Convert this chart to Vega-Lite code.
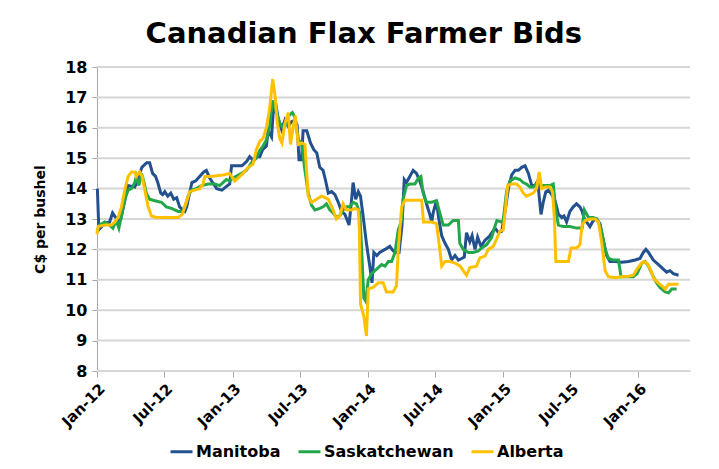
{
  "$schema": "https://vega.github.io/schema/vega-lite/v6.json",
  "width": 593,
  "height": 304,
  "autosize": {"type": "none"},
  "padding": {"left": 97, "top": 67, "right": 29, "bottom": 98},
  "background": "white",
  "config": {"view": {"stroke": null}},
  "title": {
    "text": "Canadian Flax Farmer Bids",
    "font": "DejaVu Sans",
    "fontSize": 29,
    "fontWeight": "bold",
    "color": "black",
    "anchor": "middle",
    "frame": "bounds",
    "offset": 10
  },
  "datasets": {
    "grid": [
      {"level": 8, "date": "2012-01-01"}, {"level": 8, "date": "2016-05-19"},
      {"level": 9, "date": "2012-01-01"}, {"level": 9, "date": "2016-05-19"},
      {"level": 10, "date": "2012-01-01"}, {"level": 10, "date": "2016-05-19"},
      {"level": 11, "date": "2012-01-01"}, {"level": 11, "date": "2016-05-19"},
      {"level": 12, "date": "2012-01-01"}, {"level": 12, "date": "2016-05-19"},
      {"level": 13, "date": "2012-01-01"}, {"level": 13, "date": "2016-05-19"},
      {"level": 14, "date": "2012-01-01"}, {"level": 14, "date": "2016-05-19"},
      {"level": 15, "date": "2012-01-01"}, {"level": 15, "date": "2016-05-19"},
      {"level": 16, "date": "2012-01-01"}, {"level": 16, "date": "2016-05-19"},
      {"level": 17, "date": "2012-01-01"}, {"level": 17, "date": "2016-05-19"},
      {"level": 18, "date": "2012-01-01"}, {"level": 18, "date": "2016-05-19"}
    ],
    "bids": [
      {"province": "Manitoba", "date": "2012-01-02", "bid": 14.0}, {"province": "Manitoba", "date": "2012-01-06", "bid": 12.65}, {"province": "Manitoba", "date": "2012-01-22", "bid": 12.85},
      {"province": "Manitoba", "date": "2012-02-04", "bid": 12.9}, {"province": "Manitoba", "date": "2012-02-12", "bid": 13.2}, {"province": "Manitoba", "date": "2012-02-26", "bid": 12.95},
      {"province": "Manitoba", "date": "2012-03-05", "bid": 13.0}, {"province": "Manitoba", "date": "2012-03-16", "bid": 13.6}, {"province": "Manitoba", "date": "2012-03-24", "bid": 14.1},
      {"province": "Manitoba", "date": "2012-04-12", "bid": 14.05}, {"province": "Manitoba", "date": "2012-04-20", "bid": 14.3}, {"province": "Manitoba", "date": "2012-05-01", "bid": 14.7},
      {"province": "Manitoba", "date": "2012-05-14", "bid": 14.85}, {"province": "Manitoba", "date": "2012-05-22", "bid": 14.85}, {"province": "Manitoba", "date": "2012-05-30", "bid": 14.5},
      {"province": "Manitoba", "date": "2012-06-07", "bid": 14.4}, {"province": "Manitoba", "date": "2012-06-13", "bid": 14.2}, {"province": "Manitoba", "date": "2012-06-21", "bid": 13.85},
      {"province": "Manitoba", "date": "2012-06-26", "bid": 13.8}, {"province": "Manitoba", "date": "2012-07-02", "bid": 13.9}, {"province": "Manitoba", "date": "2012-07-10", "bid": 13.75},
      {"province": "Manitoba", "date": "2012-07-18", "bid": 13.85}, {"province": "Manitoba", "date": "2012-07-26", "bid": 13.65}, {"province": "Manitoba", "date": "2012-08-03", "bid": 13.7},
      {"province": "Manitoba", "date": "2012-08-11", "bid": 13.4}, {"province": "Manitoba", "date": "2012-08-19", "bid": 13.3}, {"province": "Manitoba", "date": "2012-08-25", "bid": 13.25},
      {"province": "Manitoba", "date": "2012-08-30", "bid": 13.4}, {"province": "Manitoba", "date": "2012-09-05", "bid": 13.75}, {"province": "Manitoba", "date": "2012-09-13", "bid": 14.2},
      {"province": "Manitoba", "date": "2012-09-23", "bid": 14.25}, {"province": "Manitoba", "date": "2012-10-04", "bid": 14.4}, {"province": "Manitoba", "date": "2012-10-15", "bid": 14.55},
      {"province": "Manitoba", "date": "2012-10-22", "bid": 14.6}, {"province": "Manitoba", "date": "2012-10-31", "bid": 14.35}, {"province": "Manitoba", "date": "2012-11-08", "bid": 14.2},
      {"province": "Manitoba", "date": "2012-11-19", "bid": 14.0}, {"province": "Manitoba", "date": "2012-12-03", "bid": 13.95}, {"province": "Manitoba", "date": "2012-12-13", "bid": 14.05},
      {"province": "Manitoba", "date": "2012-12-24", "bid": 14.15}, {"province": "Manitoba", "date": "2012-12-29", "bid": 14.75}, {"province": "Manitoba", "date": "2013-01-12", "bid": 14.75},
      {"province": "Manitoba", "date": "2013-01-26", "bid": 14.75}, {"province": "Manitoba", "date": "2013-02-08", "bid": 14.9}, {"province": "Manitoba", "date": "2013-02-16", "bid": 15.05},
      {"province": "Manitoba", "date": "2013-02-24", "bid": 14.95}, {"province": "Manitoba", "date": "2013-03-07", "bid": 15.05}, {"province": "Manitoba", "date": "2013-03-15", "bid": 15.05},
      {"province": "Manitoba", "date": "2013-03-23", "bid": 15.28}, {"province": "Manitoba", "date": "2013-04-02", "bid": 15.4}, {"province": "Manitoba", "date": "2013-04-07", "bid": 15.9},
      {"province": "Manitoba", "date": "2013-04-16", "bid": 15.7}, {"province": "Manitoba", "date": "2013-04-20", "bid": 16.45}, {"province": "Manitoba", "date": "2013-04-27", "bid": 16.8},
      {"province": "Manitoba", "date": "2013-05-04", "bid": 16.3}, {"province": "Manitoba", "date": "2013-05-13", "bid": 15.95}, {"province": "Manitoba", "date": "2013-05-22", "bid": 16.25},
      {"province": "Manitoba", "date": "2013-05-31", "bid": 16.05}, {"province": "Manitoba", "date": "2013-06-09", "bid": 16.2}, {"province": "Manitoba", "date": "2013-06-18", "bid": 16.25},
      {"province": "Manitoba", "date": "2013-06-24", "bid": 16.1}, {"province": "Manitoba", "date": "2013-06-29", "bid": 14.95}, {"province": "Manitoba", "date": "2013-07-06", "bid": 14.95},
      {"province": "Manitoba", "date": "2013-07-10", "bid": 15.9}, {"province": "Manitoba", "date": "2013-07-20", "bid": 15.9}, {"province": "Manitoba", "date": "2013-07-30", "bid": 15.5},
      {"province": "Manitoba", "date": "2013-08-08", "bid": 15.28}, {"province": "Manitoba", "date": "2013-08-16", "bid": 15.17}, {"province": "Manitoba", "date": "2013-08-24", "bid": 14.7},
      {"province": "Manitoba", "date": "2013-09-02", "bid": 14.6}, {"province": "Manitoba", "date": "2013-09-09", "bid": 14.25}, {"province": "Manitoba", "date": "2013-09-16", "bid": 13.85},
      {"province": "Manitoba", "date": "2013-09-25", "bid": 13.9}, {"province": "Manitoba", "date": "2013-10-04", "bid": 13.8}, {"province": "Manitoba", "date": "2013-10-13", "bid": 13.55},
      {"province": "Manitoba", "date": "2013-10-22", "bid": 13.25}, {"province": "Manitoba", "date": "2013-10-31", "bid": 13.15}, {"province": "Manitoba", "date": "2013-11-08", "bid": 12.9},
      {"province": "Manitoba", "date": "2013-11-11", "bid": 12.8}, {"province": "Manitoba", "date": "2013-11-18", "bid": 13.65}, {"province": "Manitoba", "date": "2013-11-22", "bid": 14.2},
      {"province": "Manitoba", "date": "2013-11-29", "bid": 13.65}, {"province": "Manitoba", "date": "2013-12-06", "bid": 13.9}, {"province": "Manitoba", "date": "2013-12-12", "bid": 13.75},
      {"province": "Manitoba", "date": "2013-12-19", "bid": 13.1}, {"province": "Manitoba", "date": "2013-12-28", "bid": 12.2}, {"province": "Manitoba", "date": "2014-01-06", "bid": 11.45},
      {"province": "Manitoba", "date": "2014-01-12", "bid": 10.9}, {"province": "Manitoba", "date": "2014-01-17", "bid": 11.9}, {"province": "Manitoba", "date": "2014-01-25", "bid": 11.8},
      {"province": "Manitoba", "date": "2014-02-02", "bid": 11.9}, {"province": "Manitoba", "date": "2014-02-16", "bid": 12.0}, {"province": "Manitoba", "date": "2014-03-01", "bid": 12.1},
      {"province": "Manitoba", "date": "2014-03-10", "bid": 11.95}, {"province": "Manitoba", "date": "2014-03-19", "bid": 11.9}, {"province": "Manitoba", "date": "2014-03-26", "bid": 11.9},
      {"province": "Manitoba", "date": "2014-04-03", "bid": 12.8}, {"province": "Manitoba", "date": "2014-04-09", "bid": 14.3}, {"province": "Manitoba", "date": "2014-04-15", "bid": 14.2},
      {"province": "Manitoba", "date": "2014-04-24", "bid": 14.4}, {"province": "Manitoba", "date": "2014-05-03", "bid": 14.6}, {"province": "Manitoba", "date": "2014-05-12", "bid": 14.5},
      {"province": "Manitoba", "date": "2014-05-21", "bid": 14.25}, {"province": "Manitoba", "date": "2014-05-30", "bid": 13.9}, {"province": "Manitoba", "date": "2014-06-08", "bid": 13.5},
      {"province": "Manitoba", "date": "2014-06-17", "bid": 13.15}, {"province": "Manitoba", "date": "2014-06-22", "bid": 12.9}, {"province": "Manitoba", "date": "2014-06-26", "bid": 13.2},
      {"province": "Manitoba", "date": "2014-07-05", "bid": 13.6}, {"province": "Manitoba", "date": "2014-07-10", "bid": 13.1}, {"province": "Manitoba", "date": "2014-07-19", "bid": 12.45},
      {"province": "Manitoba", "date": "2014-07-28", "bid": 12.2}, {"province": "Manitoba", "date": "2014-08-06", "bid": 12.0}, {"province": "Manitoba", "date": "2014-08-15", "bid": 11.65},
      {"province": "Manitoba", "date": "2014-08-24", "bid": 11.8}, {"province": "Manitoba", "date": "2014-09-02", "bid": 11.65}, {"province": "Manitoba", "date": "2014-09-11", "bid": 11.7},
      {"province": "Manitoba", "date": "2014-09-18", "bid": 11.75}, {"province": "Manitoba", "date": "2014-09-24", "bid": 12.55}, {"province": "Manitoba", "date": "2014-10-03", "bid": 12.25},
      {"province": "Manitoba", "date": "2014-10-09", "bid": 12.45}, {"province": "Manitoba", "date": "2014-10-17", "bid": 12.0}, {"province": "Manitoba", "date": "2014-10-24", "bid": 12.4},
      {"province": "Manitoba", "date": "2014-11-02", "bid": 12.1}, {"province": "Manitoba", "date": "2014-11-13", "bid": 12.3}, {"province": "Manitoba", "date": "2014-11-26", "bid": 12.45},
      {"province": "Manitoba", "date": "2014-12-10", "bid": 12.7}, {"province": "Manitoba", "date": "2014-12-19", "bid": 12.55}, {"province": "Manitoba", "date": "2014-12-28", "bid": 12.6},
      {"province": "Manitoba", "date": "2015-01-06", "bid": 13.25}, {"province": "Manitoba", "date": "2015-01-15", "bid": 14.0}, {"province": "Manitoba", "date": "2015-01-24", "bid": 14.45},
      {"province": "Manitoba", "date": "2015-02-02", "bid": 14.6}, {"province": "Manitoba", "date": "2015-02-11", "bid": 14.6}, {"province": "Manitoba", "date": "2015-02-20", "bid": 14.7},
      {"province": "Manitoba", "date": "2015-03-01", "bid": 14.75}, {"province": "Manitoba", "date": "2015-03-10", "bid": 14.5}, {"province": "Manitoba", "date": "2015-03-19", "bid": 14.1},
      {"province": "Manitoba", "date": "2015-03-28", "bid": 14.1}, {"province": "Manitoba", "date": "2015-04-04", "bid": 14.25}, {"province": "Manitoba", "date": "2015-04-13", "bid": 13.15},
      {"province": "Manitoba", "date": "2015-04-19", "bid": 13.55}, {"province": "Manitoba", "date": "2015-04-26", "bid": 13.9}, {"province": "Manitoba", "date": "2015-05-03", "bid": 13.95},
      {"province": "Manitoba", "date": "2015-05-12", "bid": 13.8}, {"province": "Manitoba", "date": "2015-05-21", "bid": 13.6}, {"province": "Manitoba", "date": "2015-05-30", "bid": 13.15},
      {"province": "Manitoba", "date": "2015-06-08", "bid": 13.05}, {"province": "Manitoba", "date": "2015-06-14", "bid": 13.1}, {"province": "Manitoba", "date": "2015-06-21", "bid": 12.9},
      {"province": "Manitoba", "date": "2015-06-30", "bid": 13.25}, {"province": "Manitoba", "date": "2015-07-09", "bid": 13.4}, {"province": "Manitoba", "date": "2015-07-18", "bid": 13.5},
      {"province": "Manitoba", "date": "2015-07-27", "bid": 13.4}, {"province": "Manitoba", "date": "2015-08-02", "bid": 13.25}, {"province": "Manitoba", "date": "2015-08-08", "bid": 13.0},
      {"province": "Manitoba", "date": "2015-08-14", "bid": 12.9}, {"province": "Manitoba", "date": "2015-08-23", "bid": 12.75}, {"province": "Manitoba", "date": "2015-09-01", "bid": 12.95},
      {"province": "Manitoba", "date": "2015-09-10", "bid": 13.0}, {"province": "Manitoba", "date": "2015-09-19", "bid": 12.85}, {"province": "Manitoba", "date": "2015-09-28", "bid": 12.3},
      {"province": "Manitoba", "date": "2015-10-07", "bid": 11.8}, {"province": "Manitoba", "date": "2015-10-16", "bid": 11.6}, {"province": "Manitoba", "date": "2015-10-30", "bid": 11.6},
      {"province": "Manitoba", "date": "2015-11-17", "bid": 11.58}, {"province": "Manitoba", "date": "2015-12-05", "bid": 11.6}, {"province": "Manitoba", "date": "2015-12-23", "bid": 11.65},
      {"province": "Manitoba", "date": "2016-01-05", "bid": 11.7}, {"province": "Manitoba", "date": "2016-01-14", "bid": 11.9}, {"province": "Manitoba", "date": "2016-01-21", "bid": 12.0},
      {"province": "Manitoba", "date": "2016-01-28", "bid": 11.9}, {"province": "Manitoba", "date": "2016-02-10", "bid": 11.65}, {"province": "Manitoba", "date": "2016-02-24", "bid": 11.5},
      {"province": "Manitoba", "date": "2016-03-08", "bid": 11.35}, {"province": "Manitoba", "date": "2016-03-17", "bid": 11.25}, {"province": "Manitoba", "date": "2016-03-26", "bid": 11.3},
      {"province": "Manitoba", "date": "2016-04-04", "bid": 11.2}, {"province": "Manitoba", "date": "2016-04-18", "bid": 11.15},
      {"province": "Saskatchewan", "date": "2012-01-01", "bid": 12.6}, {"province": "Saskatchewan", "date": "2012-01-08", "bid": 12.8}, {"province": "Saskatchewan", "date": "2012-01-22", "bid": 12.9},
      {"province": "Saskatchewan", "date": "2012-02-04", "bid": 12.8}, {"province": "Saskatchewan", "date": "2012-02-13", "bid": 12.7}, {"province": "Saskatchewan", "date": "2012-02-22", "bid": 12.95},
      {"province": "Saskatchewan", "date": "2012-02-29", "bid": 12.7}, {"province": "Saskatchewan", "date": "2012-03-07", "bid": 13.1}, {"province": "Saskatchewan", "date": "2012-03-16", "bid": 13.65},
      {"province": "Saskatchewan", "date": "2012-03-25", "bid": 13.95}, {"province": "Saskatchewan", "date": "2012-04-03", "bid": 14.0}, {"province": "Saskatchewan", "date": "2012-04-12", "bid": 14.2},
      {"province": "Saskatchewan", "date": "2012-04-16", "bid": 14.4}, {"province": "Saskatchewan", "date": "2012-04-23", "bid": 14.1}, {"province": "Saskatchewan", "date": "2012-04-30", "bid": 14.5},
      {"province": "Saskatchewan", "date": "2012-05-07", "bid": 14.2}, {"province": "Saskatchewan", "date": "2012-05-13", "bid": 13.85}, {"province": "Saskatchewan", "date": "2012-05-22", "bid": 13.65},
      {"province": "Saskatchewan", "date": "2012-06-05", "bid": 13.6}, {"province": "Saskatchewan", "date": "2012-06-23", "bid": 13.55}, {"province": "Saskatchewan", "date": "2012-07-06", "bid": 13.4},
      {"province": "Saskatchewan", "date": "2012-07-20", "bid": 13.35}, {"province": "Saskatchewan", "date": "2012-08-07", "bid": 13.25}, {"province": "Saskatchewan", "date": "2012-08-19", "bid": 13.25},
      {"province": "Saskatchewan", "date": "2012-08-25", "bid": 13.4}, {"province": "Saskatchewan", "date": "2012-09-03", "bid": 13.75}, {"province": "Saskatchewan", "date": "2012-09-12", "bid": 13.95},
      {"province": "Saskatchewan", "date": "2012-09-25", "bid": 14.0}, {"province": "Saskatchewan", "date": "2012-10-09", "bid": 14.1}, {"province": "Saskatchewan", "date": "2012-10-27", "bid": 14.15},
      {"province": "Saskatchewan", "date": "2012-11-14", "bid": 14.15}, {"province": "Saskatchewan", "date": "2012-11-27", "bid": 14.1}, {"province": "Saskatchewan", "date": "2012-12-06", "bid": 14.2},
      {"province": "Saskatchewan", "date": "2012-12-15", "bid": 14.3}, {"province": "Saskatchewan", "date": "2012-12-24", "bid": 14.25}, {"province": "Saskatchewan", "date": "2013-01-02", "bid": 14.35},
      {"province": "Saskatchewan", "date": "2013-01-25", "bid": 14.5}, {"province": "Saskatchewan", "date": "2013-02-07", "bid": 14.6}, {"province": "Saskatchewan", "date": "2013-02-21", "bid": 14.85},
      {"province": "Saskatchewan", "date": "2013-03-06", "bid": 15.0}, {"province": "Saskatchewan", "date": "2013-03-15", "bid": 15.25}, {"province": "Saskatchewan", "date": "2013-03-24", "bid": 15.4},
      {"province": "Saskatchewan", "date": "2013-04-02", "bid": 15.6}, {"province": "Saskatchewan", "date": "2013-04-11", "bid": 16.05}, {"province": "Saskatchewan", "date": "2013-04-18", "bid": 16.9},
      {"province": "Saskatchewan", "date": "2013-04-25", "bid": 16.65}, {"province": "Saskatchewan", "date": "2013-05-02", "bid": 16.4}, {"province": "Saskatchewan", "date": "2013-05-08", "bid": 16.15},
      {"province": "Saskatchewan", "date": "2013-05-17", "bid": 16.0}, {"province": "Saskatchewan", "date": "2013-05-25", "bid": 16.1}, {"province": "Saskatchewan", "date": "2013-06-02", "bid": 16.4},
      {"province": "Saskatchewan", "date": "2013-06-11", "bid": 16.5}, {"province": "Saskatchewan", "date": "2013-06-18", "bid": 16.35}, {"province": "Saskatchewan", "date": "2013-06-27", "bid": 15.6},
      {"province": "Saskatchewan", "date": "2013-07-06", "bid": 15.5}, {"province": "Saskatchewan", "date": "2013-07-15", "bid": 14.6}, {"province": "Saskatchewan", "date": "2013-07-24", "bid": 13.85},
      {"province": "Saskatchewan", "date": "2013-08-02", "bid": 13.45}, {"province": "Saskatchewan", "date": "2013-08-11", "bid": 13.3}, {"province": "Saskatchewan", "date": "2013-08-24", "bid": 13.35},
      {"province": "Saskatchewan", "date": "2013-09-02", "bid": 13.4}, {"province": "Saskatchewan", "date": "2013-09-11", "bid": 13.5}, {"province": "Saskatchewan", "date": "2013-09-20", "bid": 13.3},
      {"province": "Saskatchewan", "date": "2013-09-29", "bid": 13.2}, {"province": "Saskatchewan", "date": "2013-10-08", "bid": 13.05}, {"province": "Saskatchewan", "date": "2013-10-17", "bid": 13.1},
      {"province": "Saskatchewan", "date": "2013-10-26", "bid": 13.3}, {"province": "Saskatchewan", "date": "2013-11-04", "bid": 13.4}, {"province": "Saskatchewan", "date": "2013-11-13", "bid": 13.4},
      {"province": "Saskatchewan", "date": "2013-11-22", "bid": 13.55}, {"province": "Saskatchewan", "date": "2013-12-01", "bid": 13.5}, {"province": "Saskatchewan", "date": "2013-12-10", "bid": 13.2},
      {"province": "Saskatchewan", "date": "2013-12-15", "bid": 12.0}, {"province": "Saskatchewan", "date": "2013-12-21", "bid": 10.4}, {"province": "Saskatchewan", "date": "2013-12-26", "bid": 10.3},
      {"province": "Saskatchewan", "date": "2014-01-02", "bid": 11.0}, {"province": "Saskatchewan", "date": "2014-01-11", "bid": 11.2}, {"province": "Saskatchewan", "date": "2014-01-20", "bid": 11.3},
      {"province": "Saskatchewan", "date": "2014-01-29", "bid": 11.4}, {"province": "Saskatchewan", "date": "2014-02-07", "bid": 11.5}, {"province": "Saskatchewan", "date": "2014-02-16", "bid": 11.45},
      {"province": "Saskatchewan", "date": "2014-02-25", "bid": 11.6}, {"province": "Saskatchewan", "date": "2014-03-06", "bid": 11.6}, {"province": "Saskatchewan", "date": "2014-03-15", "bid": 11.9},
      {"province": "Saskatchewan", "date": "2014-03-24", "bid": 12.65}, {"province": "Saskatchewan", "date": "2014-04-02", "bid": 12.95}, {"province": "Saskatchewan", "date": "2014-04-06", "bid": 13.65},
      {"province": "Saskatchewan", "date": "2014-04-15", "bid": 14.1}, {"province": "Saskatchewan", "date": "2014-04-24", "bid": 14.15}, {"province": "Saskatchewan", "date": "2014-05-08", "bid": 14.15},
      {"province": "Saskatchewan", "date": "2014-05-17", "bid": 14.35}, {"province": "Saskatchewan", "date": "2014-05-24", "bid": 14.4}, {"province": "Saskatchewan", "date": "2014-05-30", "bid": 13.85},
      {"province": "Saskatchewan", "date": "2014-06-08", "bid": 13.55}, {"province": "Saskatchewan", "date": "2014-06-22", "bid": 13.55}, {"province": "Saskatchewan", "date": "2014-07-05", "bid": 13.6},
      {"province": "Saskatchewan", "date": "2014-07-14", "bid": 13.2}, {"province": "Saskatchewan", "date": "2014-07-23", "bid": 12.8}, {"province": "Saskatchewan", "date": "2014-08-06", "bid": 12.8},
      {"province": "Saskatchewan", "date": "2014-08-19", "bid": 12.95}, {"province": "Saskatchewan", "date": "2014-09-02", "bid": 12.95}, {"province": "Saskatchewan", "date": "2014-09-06", "bid": 12.2},
      {"province": "Saskatchewan", "date": "2014-09-15", "bid": 12.0}, {"province": "Saskatchewan", "date": "2014-09-29", "bid": 11.9}, {"province": "Saskatchewan", "date": "2014-10-12", "bid": 11.9},
      {"province": "Saskatchewan", "date": "2014-10-26", "bid": 11.95}, {"province": "Saskatchewan", "date": "2014-11-04", "bid": 12.05}, {"province": "Saskatchewan", "date": "2014-11-17", "bid": 12.15},
      {"province": "Saskatchewan", "date": "2014-12-01", "bid": 12.4}, {"province": "Saskatchewan", "date": "2014-12-08", "bid": 12.7}, {"province": "Saskatchewan", "date": "2014-12-15", "bid": 12.95},
      {"province": "Saskatchewan", "date": "2014-12-28", "bid": 12.9}, {"province": "Saskatchewan", "date": "2015-01-01", "bid": 12.95}, {"province": "Saskatchewan", "date": "2015-01-10", "bid": 13.9},
      {"province": "Saskatchewan", "date": "2015-01-19", "bid": 14.25}, {"province": "Saskatchewan", "date": "2015-02-02", "bid": 14.35}, {"province": "Saskatchewan", "date": "2015-02-15", "bid": 14.3},
      {"province": "Saskatchewan", "date": "2015-02-24", "bid": 14.2}, {"province": "Saskatchewan", "date": "2015-03-05", "bid": 14.15}, {"province": "Saskatchewan", "date": "2015-03-14", "bid": 14.05},
      {"province": "Saskatchewan", "date": "2015-03-23", "bid": 14.05}, {"province": "Saskatchewan", "date": "2015-04-01", "bid": 14.15}, {"province": "Saskatchewan", "date": "2015-04-10", "bid": 14.1},
      {"province": "Saskatchewan", "date": "2015-04-24", "bid": 14.1}, {"province": "Saskatchewan", "date": "2015-05-07", "bid": 14.1}, {"province": "Saskatchewan", "date": "2015-05-16", "bid": 14.15},
      {"province": "Saskatchewan", "date": "2015-05-23", "bid": 13.25}, {"province": "Saskatchewan", "date": "2015-05-30", "bid": 12.8}, {"province": "Saskatchewan", "date": "2015-06-12", "bid": 12.75},
      {"province": "Saskatchewan", "date": "2015-06-30", "bid": 12.75}, {"province": "Saskatchewan", "date": "2015-07-18", "bid": 12.7}, {"province": "Saskatchewan", "date": "2015-08-02", "bid": 12.7},
      {"province": "Saskatchewan", "date": "2015-08-08", "bid": 13.3}, {"province": "Saskatchewan", "date": "2015-08-19", "bid": 13.05}, {"province": "Saskatchewan", "date": "2015-09-01", "bid": 13.05},
      {"province": "Saskatchewan", "date": "2015-09-10", "bid": 13.0}, {"province": "Saskatchewan", "date": "2015-09-19", "bid": 12.8}, {"province": "Saskatchewan", "date": "2015-09-24", "bid": 12.55},
      {"province": "Saskatchewan", "date": "2015-10-03", "bid": 12.0}, {"province": "Saskatchewan", "date": "2015-10-12", "bid": 11.7}, {"province": "Saskatchewan", "date": "2015-10-25", "bid": 11.65},
      {"province": "Saskatchewan", "date": "2015-11-08", "bid": 11.65}, {"province": "Saskatchewan", "date": "2015-11-15", "bid": 11.1}, {"province": "Saskatchewan", "date": "2015-11-26", "bid": 11.1},
      {"province": "Saskatchewan", "date": "2015-12-18", "bid": 11.1}, {"province": "Saskatchewan", "date": "2015-12-28", "bid": 11.2}, {"province": "Saskatchewan", "date": "2016-01-10", "bid": 11.55},
      {"province": "Saskatchewan", "date": "2016-01-19", "bid": 11.6}, {"province": "Saskatchewan", "date": "2016-01-28", "bid": 11.45}, {"province": "Saskatchewan", "date": "2016-02-06", "bid": 11.2},
      {"province": "Saskatchewan", "date": "2016-02-19", "bid": 10.9}, {"province": "Saskatchewan", "date": "2016-02-28", "bid": 10.75}, {"province": "Saskatchewan", "date": "2016-03-13", "bid": 10.6},
      {"province": "Saskatchewan", "date": "2016-03-22", "bid": 10.57}, {"province": "Saskatchewan", "date": "2016-03-31", "bid": 10.7}, {"province": "Saskatchewan", "date": "2016-04-13", "bid": 10.7},
      {"province": "Alberta", "date": "2012-01-01", "bid": 12.5}, {"province": "Alberta", "date": "2012-01-04", "bid": 12.75}, {"province": "Alberta", "date": "2012-01-22", "bid": 12.8},
      {"province": "Alberta", "date": "2012-02-09", "bid": 12.8}, {"province": "Alberta", "date": "2012-02-18", "bid": 12.9}, {"province": "Alberta", "date": "2012-02-27", "bid": 13.05},
      {"province": "Alberta", "date": "2012-03-07", "bid": 13.4}, {"province": "Alberta", "date": "2012-03-16", "bid": 13.95}, {"province": "Alberta", "date": "2012-03-25", "bid": 14.4},
      {"province": "Alberta", "date": "2012-04-03", "bid": 14.55}, {"province": "Alberta", "date": "2012-04-12", "bid": 14.55}, {"province": "Alberta", "date": "2012-04-16", "bid": 14.4},
      {"province": "Alberta", "date": "2012-04-25", "bid": 14.55}, {"province": "Alberta", "date": "2012-05-02", "bid": 14.4}, {"province": "Alberta", "date": "2012-05-09", "bid": 13.95},
      {"province": "Alberta", "date": "2012-05-18", "bid": 13.4}, {"province": "Alberta", "date": "2012-05-27", "bid": 13.1}, {"province": "Alberta", "date": "2012-06-09", "bid": 13.05},
      {"province": "Alberta", "date": "2012-07-11", "bid": 13.05}, {"province": "Alberta", "date": "2012-08-07", "bid": 13.05}, {"province": "Alberta", "date": "2012-08-18", "bid": 13.15},
      {"province": "Alberta", "date": "2012-08-29", "bid": 13.55}, {"province": "Alberta", "date": "2012-09-07", "bid": 13.9}, {"province": "Alberta", "date": "2012-09-21", "bid": 13.95},
      {"province": "Alberta", "date": "2012-10-04", "bid": 14.0}, {"province": "Alberta", "date": "2012-10-13", "bid": 14.15}, {"province": "Alberta", "date": "2012-10-18", "bid": 14.4},
      {"province": "Alberta", "date": "2012-10-31", "bid": 14.4}, {"province": "Alberta", "date": "2012-11-18", "bid": 14.42}, {"province": "Alberta", "date": "2012-12-06", "bid": 14.45},
      {"province": "Alberta", "date": "2012-12-24", "bid": 14.5}, {"province": "Alberta", "date": "2012-12-29", "bid": 14.4}, {"province": "Alberta", "date": "2013-01-07", "bid": 14.25},
      {"province": "Alberta", "date": "2013-01-16", "bid": 14.35}, {"province": "Alberta", "date": "2013-01-29", "bid": 14.5}, {"province": "Alberta", "date": "2013-02-12", "bid": 14.7},
      {"province": "Alberta", "date": "2013-02-25", "bid": 14.8}, {"province": "Alberta", "date": "2013-03-06", "bid": 15.28}, {"province": "Alberta", "date": "2013-03-15", "bid": 15.55},
      {"province": "Alberta", "date": "2013-03-24", "bid": 15.65}, {"province": "Alberta", "date": "2013-04-02", "bid": 16.0}, {"province": "Alberta", "date": "2013-04-11", "bid": 16.65},
      {"province": "Alberta", "date": "2013-04-19", "bid": 17.6}, {"province": "Alberta", "date": "2013-04-26", "bid": 17.0}, {"province": "Alberta", "date": "2013-05-01", "bid": 16.2},
      {"province": "Alberta", "date": "2013-05-08", "bid": 15.65}, {"province": "Alberta", "date": "2013-05-14", "bid": 15.5}, {"province": "Alberta", "date": "2013-05-22", "bid": 16.15},
      {"province": "Alberta", "date": "2013-05-31", "bid": 16.5}, {"province": "Alberta", "date": "2013-06-06", "bid": 15.45}, {"province": "Alberta", "date": "2013-06-13", "bid": 16.0},
      {"province": "Alberta", "date": "2013-06-19", "bid": 16.4}, {"province": "Alberta", "date": "2013-06-27", "bid": 15.45}, {"province": "Alberta", "date": "2013-07-06", "bid": 15.5},
      {"province": "Alberta", "date": "2013-07-15", "bid": 15.45}, {"province": "Alberta", "date": "2013-07-24", "bid": 13.75}, {"province": "Alberta", "date": "2013-08-02", "bid": 13.55},
      {"province": "Alberta", "date": "2013-08-15", "bid": 13.65}, {"province": "Alberta", "date": "2013-08-29", "bid": 13.75}, {"province": "Alberta", "date": "2013-09-07", "bid": 13.7},
      {"province": "Alberta", "date": "2013-09-16", "bid": 13.65}, {"province": "Alberta", "date": "2013-09-29", "bid": 13.3}, {"province": "Alberta", "date": "2013-10-08", "bid": 13.0},
      {"province": "Alberta", "date": "2013-10-17", "bid": 13.1}, {"province": "Alberta", "date": "2013-10-26", "bid": 13.5}, {"province": "Alberta", "date": "2013-11-04", "bid": 13.3},
      {"province": "Alberta", "date": "2013-11-18", "bid": 13.3}, {"province": "Alberta", "date": "2013-11-27", "bid": 13.35}, {"province": "Alberta", "date": "2013-12-06", "bid": 13.3},
      {"province": "Alberta", "date": "2013-12-09", "bid": 12.65}, {"province": "Alberta", "date": "2013-12-12", "bid": 10.2}, {"province": "Alberta", "date": "2013-12-21", "bid": 9.8},
      {"province": "Alberta", "date": "2013-12-28", "bid": 9.15}, {"province": "Alberta", "date": "2014-01-02", "bid": 10.7}, {"province": "Alberta", "date": "2014-01-15", "bid": 10.75},
      {"province": "Alberta", "date": "2014-01-29", "bid": 10.9}, {"province": "Alberta", "date": "2014-02-11", "bid": 10.9}, {"province": "Alberta", "date": "2014-02-20", "bid": 10.6},
      {"province": "Alberta", "date": "2014-03-10", "bid": 10.6}, {"province": "Alberta", "date": "2014-03-19", "bid": 10.8}, {"province": "Alberta", "date": "2014-03-24", "bid": 12.0},
      {"province": "Alberta", "date": "2014-04-02", "bid": 13.4}, {"province": "Alberta", "date": "2014-04-11", "bid": 13.62}, {"province": "Alberta", "date": "2014-05-17", "bid": 13.62},
      {"province": "Alberta", "date": "2014-05-26", "bid": 13.62}, {"province": "Alberta", "date": "2014-05-31", "bid": 12.9}, {"province": "Alberta", "date": "2014-06-22", "bid": 12.9},
      {"province": "Alberta", "date": "2014-07-05", "bid": 12.85}, {"province": "Alberta", "date": "2014-07-14", "bid": 12.0}, {"province": "Alberta", "date": "2014-07-19", "bid": 11.45},
      {"province": "Alberta", "date": "2014-07-28", "bid": 11.6}, {"province": "Alberta", "date": "2014-08-11", "bid": 11.6}, {"province": "Alberta", "date": "2014-08-24", "bid": 11.55},
      {"province": "Alberta", "date": "2014-09-07", "bid": 11.45}, {"province": "Alberta", "date": "2014-09-15", "bid": 11.3}, {"province": "Alberta", "date": "2014-09-24", "bid": 11.15},
      {"province": "Alberta", "date": "2014-10-03", "bid": 11.4}, {"province": "Alberta", "date": "2014-10-21", "bid": 11.45}, {"province": "Alberta", "date": "2014-10-30", "bid": 11.72},
      {"province": "Alberta", "date": "2014-11-13", "bid": 11.78}, {"province": "Alberta", "date": "2014-11-22", "bid": 12.0}, {"province": "Alberta", "date": "2014-12-05", "bid": 12.1},
      {"province": "Alberta", "date": "2014-12-14", "bid": 12.33}, {"province": "Alberta", "date": "2014-12-23", "bid": 12.6}, {"province": "Alberta", "date": "2015-01-01", "bid": 12.65},
      {"province": "Alberta", "date": "2015-01-06", "bid": 13.2}, {"province": "Alberta", "date": "2015-01-13", "bid": 14.1}, {"province": "Alberta", "date": "2015-01-24", "bid": 14.15},
      {"province": "Alberta", "date": "2015-02-06", "bid": 14.15}, {"province": "Alberta", "date": "2015-02-15", "bid": 14.05}, {"province": "Alberta", "date": "2015-02-24", "bid": 13.85},
      {"province": "Alberta", "date": "2015-03-05", "bid": 13.75}, {"province": "Alberta", "date": "2015-03-14", "bid": 13.8}, {"province": "Alberta", "date": "2015-03-23", "bid": 13.85},
      {"province": "Alberta", "date": "2015-04-01", "bid": 14.0}, {"province": "Alberta", "date": "2015-04-08", "bid": 14.55}, {"province": "Alberta", "date": "2015-04-15", "bid": 14.0},
      {"province": "Alberta", "date": "2015-04-24", "bid": 14.05}, {"province": "Alberta", "date": "2015-05-07", "bid": 14.05}, {"province": "Alberta", "date": "2015-05-14", "bid": 13.9},
      {"province": "Alberta", "date": "2015-05-19", "bid": 13.05}, {"province": "Alberta", "date": "2015-05-23", "bid": 11.6}, {"province": "Alberta", "date": "2015-06-08", "bid": 11.6},
      {"province": "Alberta", "date": "2015-06-26", "bid": 11.6}, {"province": "Alberta", "date": "2015-07-03", "bid": 12.05}, {"province": "Alberta", "date": "2015-07-18", "bid": 12.05},
      {"province": "Alberta", "date": "2015-07-27", "bid": 12.15}, {"province": "Alberta", "date": "2015-08-02", "bid": 12.8}, {"province": "Alberta", "date": "2015-08-10", "bid": 12.95},
      {"province": "Alberta", "date": "2015-08-23", "bid": 13.0}, {"province": "Alberta", "date": "2015-09-06", "bid": 13.0}, {"province": "Alberta", "date": "2015-09-15", "bid": 12.9},
      {"province": "Alberta", "date": "2015-09-24", "bid": 12.2}, {"province": "Alberta", "date": "2015-10-03", "bid": 11.3}, {"province": "Alberta", "date": "2015-10-12", "bid": 11.1},
      {"province": "Alberta", "date": "2015-10-30", "bid": 11.07}, {"province": "Alberta", "date": "2015-11-17", "bid": 11.1}, {"province": "Alberta", "date": "2015-12-05", "bid": 11.12},
      {"province": "Alberta", "date": "2015-12-18", "bid": 11.15}, {"province": "Alberta", "date": "2015-12-28", "bid": 11.35}, {"province": "Alberta", "date": "2016-01-06", "bid": 11.5},
      {"province": "Alberta", "date": "2016-01-15", "bid": 11.6}, {"province": "Alberta", "date": "2016-01-24", "bid": 11.55}, {"province": "Alberta", "date": "2016-02-02", "bid": 11.35},
      {"province": "Alberta", "date": "2016-02-10", "bid": 11.07}, {"province": "Alberta", "date": "2016-02-19", "bid": 10.95}, {"province": "Alberta", "date": "2016-02-28", "bid": 10.85},
      {"province": "Alberta", "date": "2016-03-13", "bid": 10.7}, {"province": "Alberta", "date": "2016-03-22", "bid": 10.85}, {"province": "Alberta", "date": "2016-04-04", "bid": 10.85},
      {"province": "Alberta", "date": "2016-04-18", "bid": 10.85}
    ]
  },
  "encoding": {
    "x": {
      "field": "date",
      "type": "temporal",
      "scale": {
        "type": "utc",
        "domain": [
          {"year": 2012, "month": 1, "date": 1, "utc": true},
          {"year": 2016, "month": 5, "date": 19, "utc": true}
        ]
      },
      "axis": {
        "title": null,
        "grid": false,
        "domainColor": "#a6a6a6",
        "tickColor": "#a6a6a6",
        "tickSize": 6,
        "values": [
          {"year": 2012, "month": 1, "date": 1, "utc": true},
          {"year": 2012, "month": 7, "date": 1, "utc": true},
          {"year": 2013, "month": 1, "date": 1, "utc": true},
          {"year": 2013, "month": 7, "date": 1, "utc": true},
          {"year": 2014, "month": 1, "date": 1, "utc": true},
          {"year": 2014, "month": 7, "date": 1, "utc": true},
          {"year": 2015, "month": 1, "date": 1, "utc": true},
          {"year": 2015, "month": 7, "date": 1, "utc": true},
          {"year": 2016, "month": 1, "date": 1, "utc": true}
        ],
        "format": "%b-%y",
        "labelAngle": -45,
        "labelAlign": "right",
        "labelBaseline": "top",
        "labelFont": "DejaVu Sans",
        "labelFontWeight": "bold",
        "labelColor": "black",
        "labelFontSize": 15,
        "labelPadding": 4
      }
    }
  },
  "layer": [
    {
      "data": {"name": "grid"},
      "mark": {"type": "line", "strokeWidth": 2, "color": "#d6d6d6"},
      "encoding": {
        "y": {
          "field": "level",
          "type": "quantitative",
          "scale": {"domain": [8, 18]},
          "axis": {
            "title": "C$ per bushel",
            "titleFont": "DejaVu Sans",
            "titleFontWeight": "bold",
            "titleColor": "black",
            "titleFontSize": 14,
            "titlePadding": 17,
            "grid": false,
            "domainColor": "#a6a6a6",
            "tickColor": "#a6a6a6",
            "tickSize": 5,
            "labelFont": "DejaVu Sans",
            "labelFontWeight": "bold",
            "labelColor": "black",
            "labelFontSize": 16,
            "labelPadding": 5
          }
        },
        "detail": {"field": "level", "type": "nominal"}
      }
    },
    {
      "data": {"name": "bids"},
      "mark": {"type": "line", "strokeWidth": 3},
      "encoding": {
        "y": {"field": "bid", "type": "quantitative"},
        "color": {
          "field": "province",
          "type": "nominal",
          "scale": {"domain": ["Manitoba", "Saskatchewan", "Alberta"], "range": ["#23508E", "#22A74A", "#FFC000"]},
          "legend": {
            "title": null,
            "orient": "none",
            "legendX": 72,
            "legendY": 372,
            "direction": "horizontal",
            "symbolType": "stroke",
            "symbolSize": 484,
            "symbolStrokeWidth": 3,
            "labelFont": "DejaVu Sans",
            "labelFontSize": 16,
            "labelFontWeight": "bold",
            "labelColor": "black",
            "labelOffset": 2,
            "columnPadding": 11,
            "padding": 0
          }
        }
      }
    }
  ]
}
